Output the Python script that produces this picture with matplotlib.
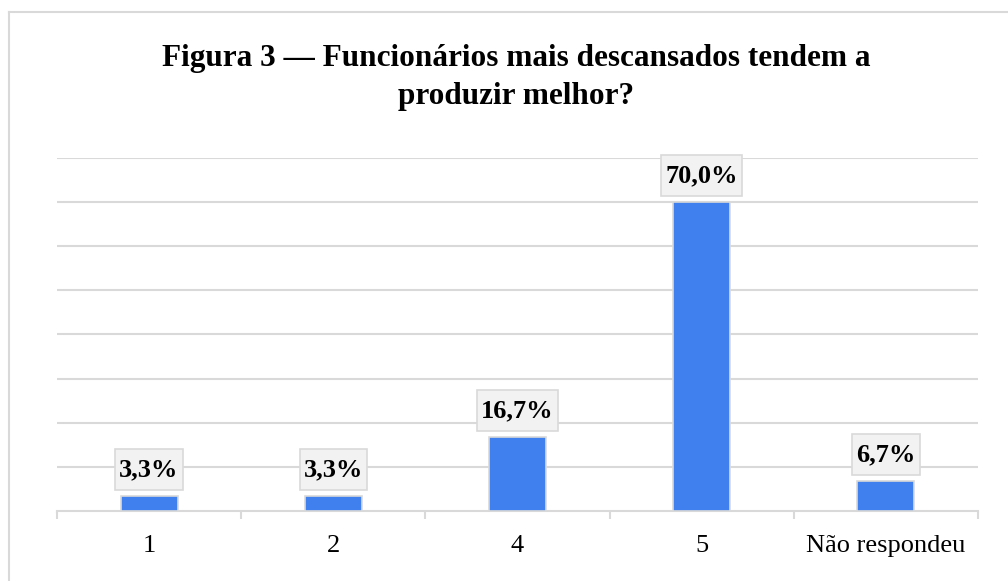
import numpy as np
import matplotlib.pyplot as plt
from matplotlib.lines import Line2D

# Data
categories = ["1", "2", "4", "5", "Não respondeu"]
values = [3.3, 3.3, 16.7, 70.0, 6.7]
labels = ["3,3%", "3,3%", "16,7%", "70,0%", "6,7%"]

plt.rcParams['font.family'] = ['Liberation Serif', 'DejaVu Serif']

fig = plt.figure(figsize=(10.08, 5.81), dpi=100)
ax = fig.add_axes([0.0565, 0.1205, 0.9137, 0.6076])

x = np.arange(len(categories))
ax.bar(x, values, width=0.31, color="#4080EE", edgecolor="#D9D9D9", linewidth=1.2, zorder=3)

# Data labels with grey boxes
for xi, v, lab in zip(x, values, labels):
    ax.annotate(lab, (xi, v), xytext=(0, 11), textcoords="offset points",
                ha="center", va="bottom", fontsize=19, fontweight="bold",
                bbox=dict(boxstyle="square,pad=0.15", mutation_aspect=2.2,
                          facecolor="#F2F2F2", edgecolor="#D9D9D9", linewidth=1.2),
                zorder=4)

ax.set_xlim(-0.5, len(categories) - 0.5)
ax.set_ylim(0, 80)
ax.set_yticks(np.arange(10, 81, 10))
ax.yaxis.grid(True, color="#D9D9D9", linewidth=1.5, zorder=0)
ax.tick_params(axis="y", left=False, labelleft=False)

# Category boundaries as major ticks, names on minor ticks
ax.set_xticks(np.arange(-0.5, len(categories), 1.0))
ax.set_xticklabels([])
ax.tick_params(axis="x", which="major", length=6, width=1.5, color="#D9D9D9", direction="out")
ax.set_xticks(x, minor=True)
ax.set_xticklabels(categories, minor=True, fontsize=19)
ax.tick_params(axis="x", which="minor", length=0, pad=17)

for s in ["top", "right", "left"]:
    ax.spines[s].set_visible(False)
ax.spines["bottom"].set_color("#D9D9D9")
ax.spines["bottom"].set_linewidth(1.5)

fig.text(0.512, 0.867, "Figura 3 — Funcionários mais descansados tendem a\nproduzir melhor?",
         ha="center", va="center", fontsize=22.5, fontweight="bold", linespacing=1.4)

# Outer chart border (left and top visible)
fig.add_artist(Line2D([9 / 1008, 9 / 1008], [0, 1 - 12 / 581], transform=fig.transFigure,
                      color="#D9D9D9", linewidth=1.5))
fig.add_artist(Line2D([9 / 1008, 1], [1 - 12 / 581, 1 - 12 / 581], transform=fig.transFigure,
                      color="#D9D9D9", linewidth=1.5))

fig.savefig("out.png", dpi=100)
